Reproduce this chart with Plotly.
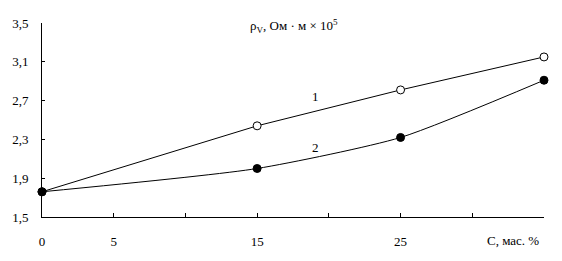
import plotly.graph_objects as go

conc = [0, 15, 25, 35]
rho_1 = [1.76, 2.44, 2.81, 3.15]
rho_2 = [1.76, 2.00, 2.32, 2.91]

x_tickvals = [0, 5, 15, 25]
x_ticktext = ["0", "5", "15", "25"]
x_minor_ticks = [10, 20, 30, 35]
y_tickvals = [1.5, 1.9, 2.3, 2.7, 3.1, 3.5]
y_ticktext = ["1,5", "1,9", "2,3", "2,7", "3,1", "3,5"]

FONT = "Times New Roman, Liberation Serif, DejaVu Serif, serif"

fig = go.Figure()
fig.add_trace(go.Scatter(
    x=conc, y=rho_1, mode="lines+markers",
    line=dict(color="black", width=1),
    marker=dict(symbol="circle", size=8, color="white", line=dict(color="black", width=1)),
    cliponaxis=False, showlegend=False))
fig.add_trace(go.Scatter(
    x=conc, y=rho_2, mode="lines+markers",
    line=dict(color="black", width=1, shape="spline", smoothing=0.6),
    marker=dict(symbol="circle", size=8, color="black", line=dict(color="black", width=1)),
    cliponaxis=False, showlegend=False))

fig.update_layout(
    width=562, height=261,
    margin=dict(l=40, r=18, t=23, b=44),
    paper_bgcolor="white", plot_bgcolor="white",
    font=dict(family=FONT, size=13, color="black"),
    xaxis=dict(range=[0, 35], tickvals=x_tickvals, ticktext=x_ticktext,
               showgrid=False, zeroline=False, showline=True, linecolor="black", linewidth=1,
               ticks="inside", ticklen=4, tickcolor="black", ticklabelstandoff=12,
               tickfont=dict(size=13, family=FONT),
               minor=dict(tickvals=x_minor_ticks, ticks="inside", ticklen=4,
                          tickcolor="black", showgrid=False)),
    yaxis=dict(range=[1.5, 3.5], tickvals=y_tickvals, ticktext=y_ticktext,
               showgrid=False, zeroline=False, showline=True, linecolor="black", linewidth=1,
               ticks="inside", ticklen=3, tickcolor="black", ticklabelstandoff=10,
               tickfont=dict(size=13, family=FONT)),
    annotations=[
        dict(x=17.6, y=3.47, xref="x", yref="y", showarrow=False,
             text="ρ<sub>V</sub>, Ом · м × 10<sup>5</sup>", font=dict(size=13, family=FONT)),
        dict(x=19.1, y=2.74, xref="x", yref="y", showarrow=False, text="1",
             font=dict(size=13, family=FONT)),
        dict(x=19.1, y=2.22, xref="x", yref="y", showarrow=False, text="2",
             font=dict(size=13, family=FONT)),
        dict(x=(541 - 40) / 504, y=(217 - 240) / 194, xref="paper", yref="paper",
             showarrow=False, text="C, мас. %",
             font=dict(size=13, family=FONT), xanchor="right", yanchor="middle"),
    ],
)

fig.write_html("out.html")
